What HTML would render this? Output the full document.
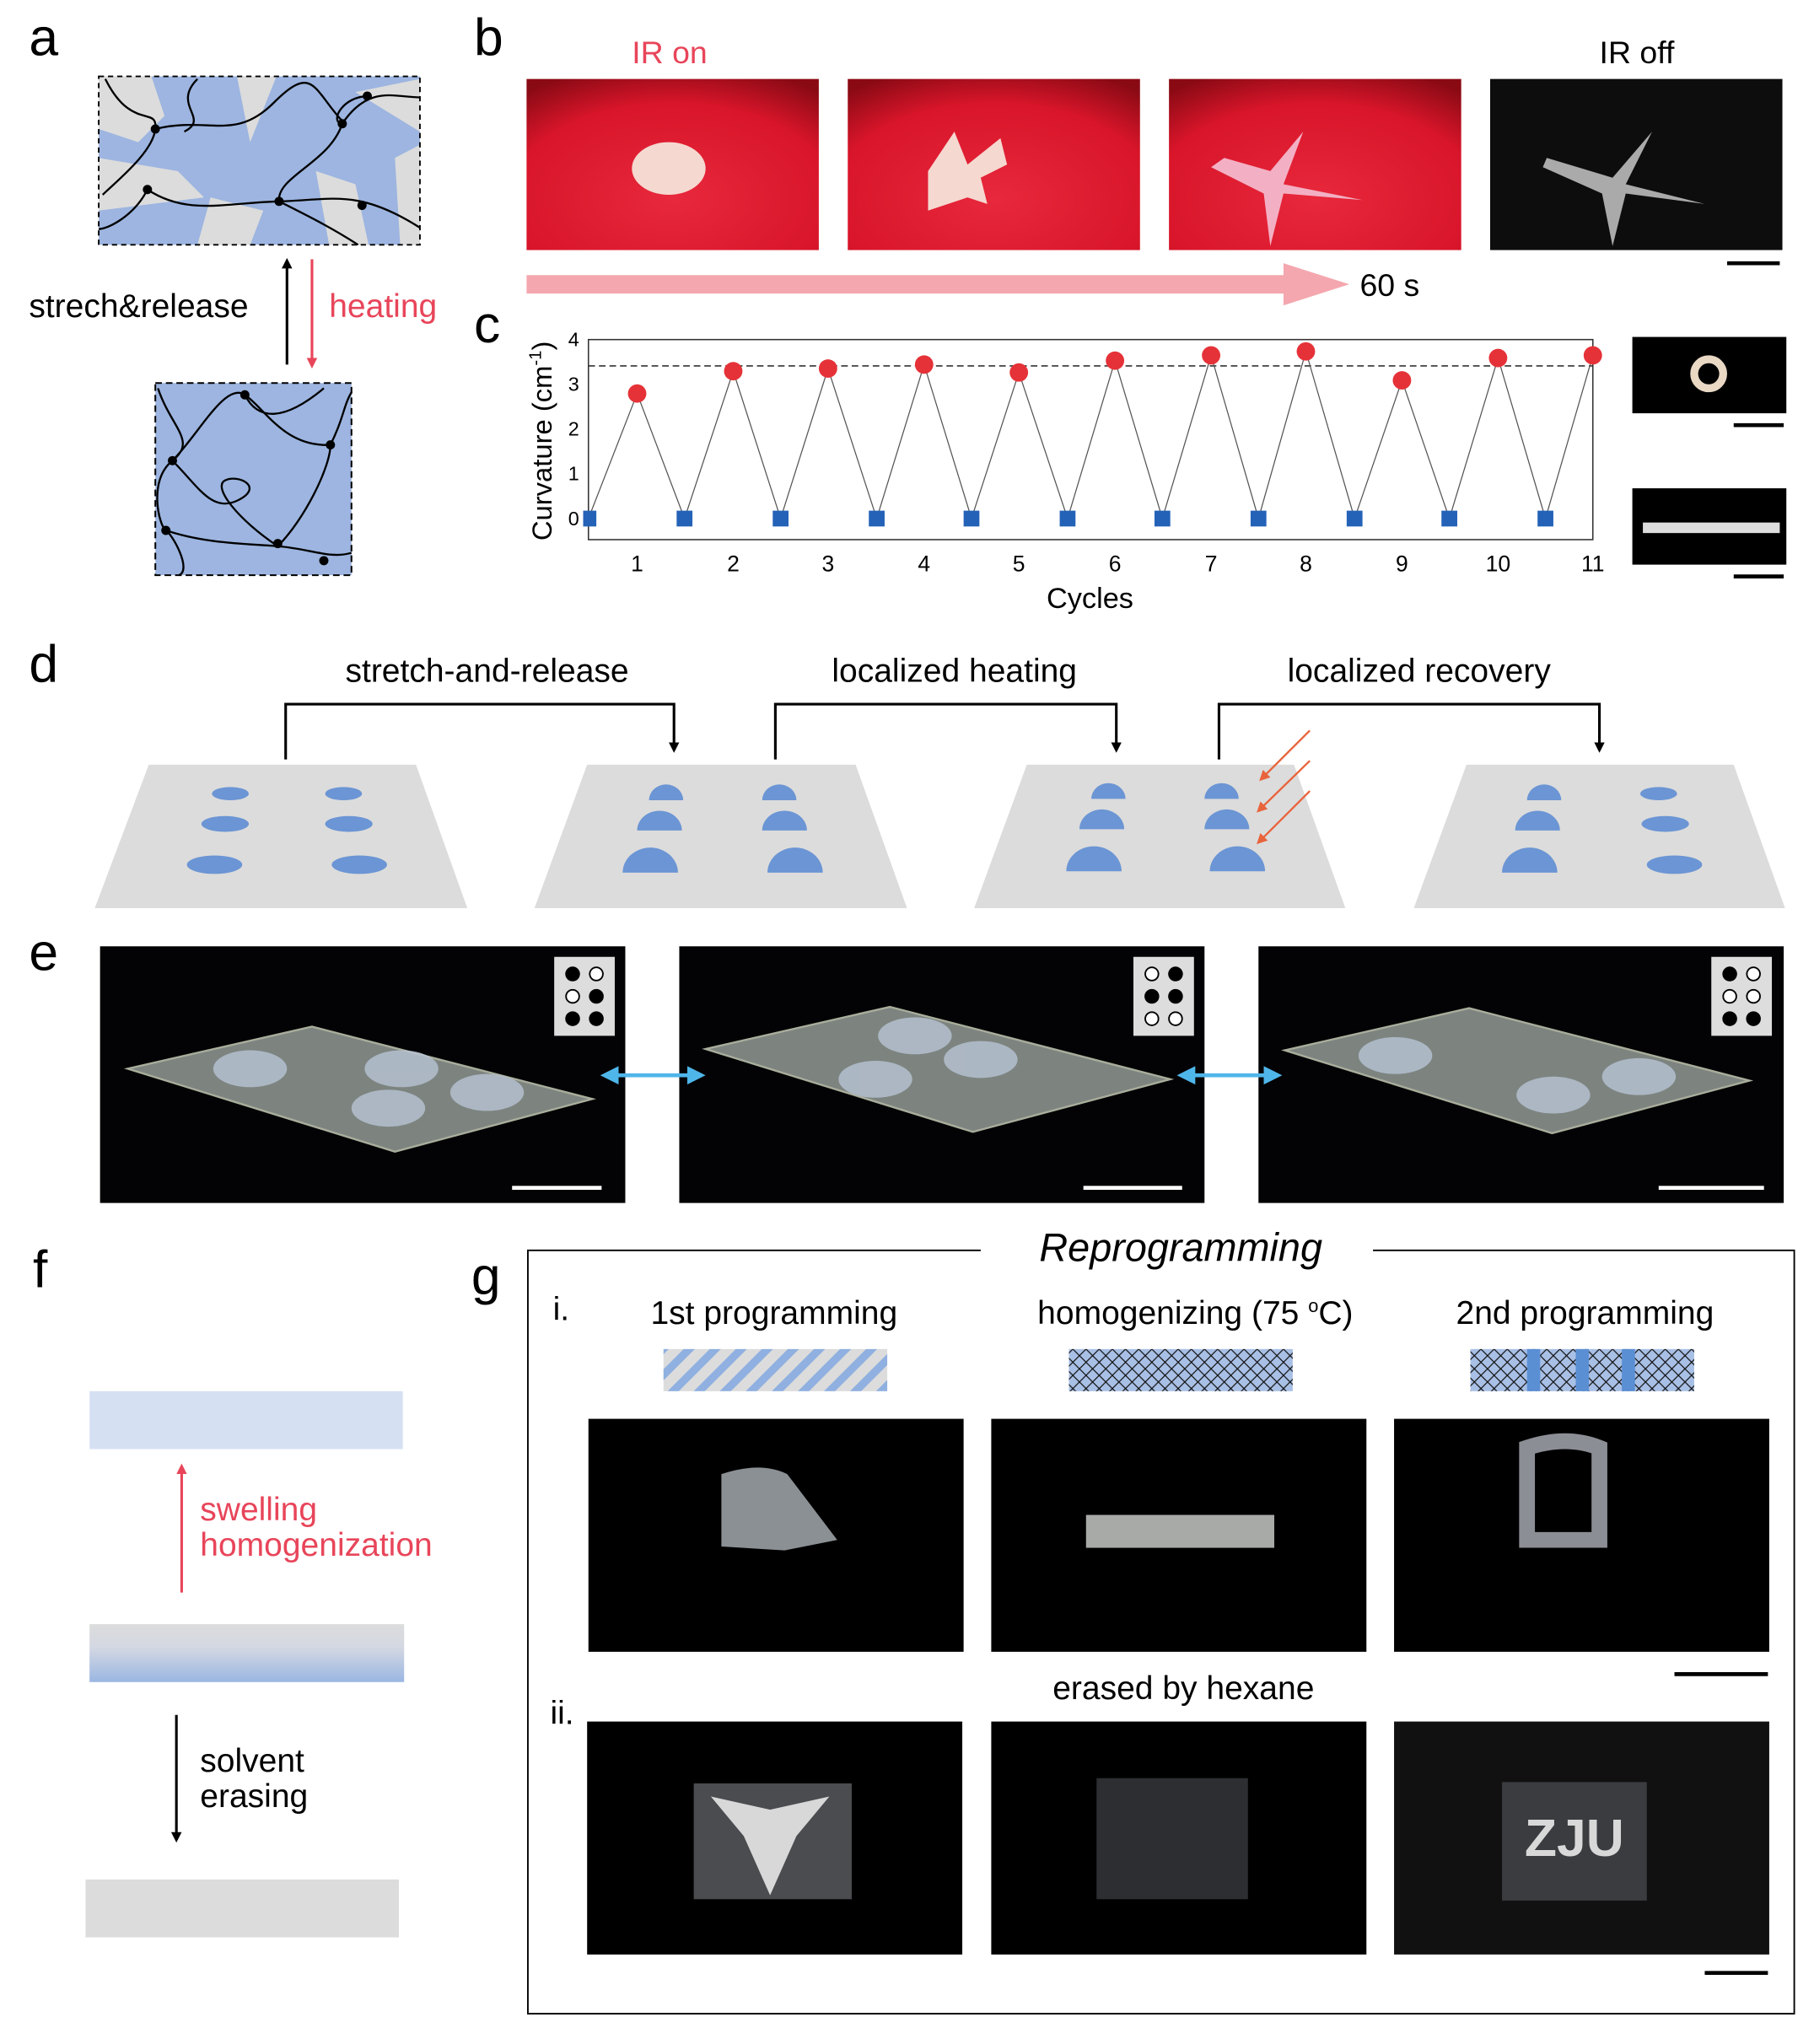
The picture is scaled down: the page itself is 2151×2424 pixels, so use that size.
<!DOCTYPE html>
<html><head><meta charset="utf-8"><style>html,body{margin:0;padding:0;background:#fff}svg{display:block}text{font-family:"Liberation Sans",sans-serif}</style></head><body>
<svg width="2151" height="2424" viewBox="0 0 1378 1553" preserveAspectRatio="none" xmlns="http://www.w3.org/2000/svg">
<defs>
<radialGradient id="red" cx="0.5" cy="0.7" r="0.8"><stop offset="0" stop-color="#e8283c"/><stop offset="0.7" stop-color="#d8152a"/><stop offset="1" stop-color="#8a0a14"/></radialGradient>
<linearGradient id="fgrad" x1="0" y1="0" x2="0" y2="1"><stop offset="0" stop-color="#dcdcdc"/><stop offset="0.4" stop-color="#d4d8e2"/><stop offset="1" stop-color="#9ab6e2"/></linearGradient>
<pattern id="hatch" width="14" height="14" patternUnits="userSpaceOnUse" patternTransform="rotate(45)"><rect width="14" height="14" fill="#dcdcdc"/><rect width="6" height="14" fill="#8fb0e0"/></pattern>
<pattern id="cross" width="10" height="10" patternUnits="userSpaceOnUse"><rect width="10" height="10" fill="#a9c0e6"/><path d="M0 0L10 10M10 0L0 10" stroke="#111" stroke-width="0.8"/></pattern>
<marker id="ak" markerWidth="8" markerHeight="8" refX="6" refY="4" orient="auto" markerUnits="userSpaceOnUse"><path d="M0 0L8 4L0 8z" fill="#000"/></marker>
<marker id="ar" markerWidth="8" markerHeight="8" refX="6" refY="4" orient="auto" markerUnits="userSpaceOnUse"><path d="M0 0L8 4L0 8z" fill="#e8455a"/></marker>
<marker id="ao" markerWidth="8" markerHeight="8" refX="6" refY="4" orient="auto" markerUnits="userSpaceOnUse"><path d="M0 0L8 4L0 8z" fill="#e8643c"/></marker>
<marker id="ab" markerWidth="14" markerHeight="14" refX="10" refY="7" orient="auto" markerUnits="userSpaceOnUse"><path d="M0 0L14 7L0 14z" fill="#4fb6ea"/></marker>
<marker id="ab2" markerWidth="14" markerHeight="14" refX="4" refY="7" orient="auto" markerUnits="userSpaceOnUse"><path d="M14 0L0 7L14 14z" fill="#4fb6ea"/></marker>
</defs>
<g font-size="40"><text x="22" y="42">a</text><text x="360" y="42">b</text><text x="360" y="260">c</text><text x="22" y="518">d</text><text x="22" y="737">e</text><text x="25" y="978">f</text><text x="358" y="983">g</text></g>
<!-- a -->
<rect x="75" y="58" width="244" height="128" fill="#9db5e0"/>
<g fill="#dcdcdc"><path d="M75 58h40l10 30-20 20-30-10z"/><path d="M180 58h30l-20 50z"/><path d="M270 70l49-10v40z"/><path d="M75 120l60 10 20 20-80 10z"/><path d="M240 130l30 10 10 46h-30z"/><path d="M160 150l40 10-10 26h-40z"/><path d="M300 120l19-10v76h-15z"/></g>
<g fill="none" stroke="#000" stroke-width="1.5"><path d="M80 60c20 40 40 20 38 38s-30 40 -40 50"/><path d="M118 98c40-10 60 10 90-20s30-10 52 14"/><path d="M260 94c20-30 40-20 59-20"/><path d="M260 94c-10 30 -50 40 -48 59"/><path d="M112 144c30 20 60 10 100 9s60-10 107 20"/><path d="M280 73c-20 0 -30 20 -20 21"/><path d="M112 144c-10 20 -30 30 -37 30"/><path d="M212 153c20 10 40 20 60 33"/><path d="M150 60c-20 20 10 30 -10 40"/></g>
<g fill="#000"><circle cx="118" cy="98" r="3.5"/><circle cx="260" cy="94" r="3.5"/><circle cx="279" cy="73" r="3.5"/><circle cx="112" cy="144" r="3.5"/><circle cx="212" cy="153" r="3.5"/><circle cx="275" cy="156" r="3.5"/></g>
<rect x="75" y="58" width="244" height="128" fill="none" stroke="#000" stroke-dasharray="4,3" stroke-width="1.2"/>
<rect x="118" y="291" width="149" height="146" fill="#9db5e0" stroke="#000" stroke-dasharray="5,3" stroke-width="1.3"/>
<g fill="none" stroke="#000" stroke-width="1.5"><path d="M120 295c10 30 30 40 11 55s-10 50 -5 53s20 30 10 34"/><path d="M131 350c20-20 40-60 55-50s30 40 65 38"/><path d="M186 300c10 20 30 20 60 -5"/><path d="M251 338c10-20 10-30 16-40"/><path d="M131 350c20 20 30 40 50 30s0-20 -10-15s10 30 40 50"/><path d="M211 415c20-20 40-60 40-77"/><path d="M126 403c30 10 60 10 85 12s40 10 56 5"/></g>
<g fill="#000"><circle cx="186" cy="300" r="3.5"/><circle cx="131" cy="350" r="3.5"/><circle cx="251" cy="338" r="3.5"/><circle cx="126" cy="403" r="3.5"/><circle cx="211" cy="413" r="3.5"/><circle cx="246" cy="426" r="3.5"/></g>
<line x1="218" y1="277" x2="218" y2="198" stroke="#000" stroke-width="2" marker-end="url(#ak)"/>
<line x1="237" y1="197" x2="237" y2="278" stroke="#e8455a" stroke-width="2" marker-end="url(#ar)"/>
<text x="22" y="241" font-size="25">strech&amp;release</text><text x="250" y="241" font-size="25" fill="#e8455a">heating</text>
<!-- b -->
<text x="480" y="48" font-size="24" fill="#e8455a">IR on</text><text x="1215" y="48" font-size="24">IR off</text>
<rect x="400" y="60" width="222" height="130" fill="url(#red)"/><rect x="644" y="60" width="222" height="130" fill="url(#red)"/><rect x="888" y="60" width="222" height="130" fill="url(#red)"/><rect x="1132" y="60" width="222" height="130" fill="#0d0d0d"/>
<g fill="#f5d8d0"><ellipse cx="508" cy="128" rx="28" ry="20"/><path d="M705 130l20-30 10 25 25-20 5 20-20 10 5 20-15-5-30 10z"/><path d="M930 120l35 10 25-30-15 40 60 12-60-5-10 40-5-40-40-20z" fill="#f3b0c4"/></g>
<path d="M1175 120l50 15 30-35-20 40 60 15-60-8-10 40-8-40-45-20z" fill="#aaa"/>
<line x1="1312" y1="200" x2="1352" y2="200" stroke="#000" stroke-width="3"/>
<path d="M400 209h575v-9l50 16-50 16v-9H400z" fill="#f4a7ae"/>
<text x="1033" y="225" font-size="24">60 s</text>
<!-- c -->
<rect x="447" y="258" width="763" height="152" fill="none" stroke="#333" stroke-width="1"/>
<line x1="447" y1="278" x2="1210" y2="278" stroke="#333" stroke-dasharray="5,3"/>
<g font-size="15" text-anchor="end"><text x="440" y="399">0</text><text x="440" y="365">1</text><text x="440" y="331">2</text><text x="440" y="297">3</text><text x="440" y="263">4</text></g>
<g font-size="17" text-anchor="middle"><text x="484" y="434">1</text><text x="557" y="434">2</text><text x="629" y="434">3</text><text x="702" y="434">4</text><text x="774" y="434">5</text><text x="847" y="434">6</text><text x="920" y="434">7</text><text x="992" y="434">8</text><text x="1065" y="434">9</text><text x="1138" y="434">10</text><text x="1210" y="434">11</text></g>
<text x="828" y="462" font-size="22" text-anchor="middle">Cycles</text>
<text transform="translate(419 335) rotate(-90)" font-size="21" text-anchor="middle">Curvature (cm<tspan font-size="13" dy="-8">-1</tspan><tspan dy="8">)</tspan></text>
<polyline fill="none" stroke="#555" stroke-width="0.8" points="447,394 484,299 520,394 557,282 593,394 629,280 666,394 702,277 738,394 774,283 811,394 847,274 883,394 920,270 956,394 992,267 1029,394 1065,289 1101,394 1138,272 1174,394 1210,270"/>
<g fill="#2462b8"><rect x="443" y="388" width="10" height="12"/><rect x="514" y="388" width="12" height="12"/><rect x="587" y="388" width="12" height="12"/><rect x="660" y="388" width="12" height="12"/><rect x="732" y="388" width="12" height="12"/><rect x="805" y="388" width="12" height="12"/><rect x="877" y="388" width="12" height="12"/><rect x="950" y="388" width="12" height="12"/><rect x="1023" y="388" width="12" height="12"/><rect x="1095" y="388" width="12" height="12"/><rect x="1168" y="388" width="12" height="12"/></g>
<g fill="#e53238"><circle cx="484" cy="299" r="7"/><circle cx="557" cy="282" r="7"/><circle cx="629" cy="280" r="7"/><circle cx="702" cy="277" r="7"/><circle cx="774" cy="283" r="7"/><circle cx="847" cy="274" r="7"/><circle cx="920" cy="270" r="7"/><circle cx="992" cy="267" r="7"/><circle cx="1065" cy="289" r="7"/><circle cx="1138" cy="272" r="7"/><circle cx="1210" cy="270" r="7"/></g>
<rect x="1240" y="256" width="117" height="58" fill="#000"/><circle cx="1298" cy="284" r="11" fill="none" stroke="#e8d8c4" stroke-width="6"/>
<rect x="1240" y="371" width="117" height="58" fill="#000"/><rect x="1248" y="397" width="104" height="8" fill="#ddd"/>
<line x1="1317" y1="323" x2="1355" y2="323" stroke="#000" stroke-width="3"/><line x1="1317" y1="438" x2="1355" y2="438" stroke="#000" stroke-width="3"/>
<!-- d -->
<g font-size="25" text-anchor="middle"><text x="370" y="518">stretch-and-release</text><text x="725" y="518">localized heating</text><text x="1078" y="518">localized recovery</text></g>
<g fill="none" stroke="#000" stroke-width="2"><path d="M217 577V535H512V570" marker-end="url(#ak)"/><path d="M589 577V535H848V570" marker-end="url(#ak)"/><path d="M926 577V535H1215V570" marker-end="url(#ak)"/></g>
<g fill="#dcdcdc"><path d="M113 581H316L355 690H72z"/><path d="M446 581H650L689 690H406z"/><path d="M780 581H983L1022 690H740z"/><path d="M1114 581H1317L1356 690H1074z"/></g>
<g fill="#6b95d4">
<ellipse cx="175" cy="603" rx="14" ry="5"/><ellipse cx="171" cy="626" rx="18" ry="6"/><ellipse cx="163" cy="657" rx="21" ry="7"/><ellipse cx="261" cy="603" rx="14" ry="5"/><ellipse cx="265" cy="626" rx="18" ry="6"/><ellipse cx="273" cy="657" rx="21" ry="7"/>
<path d="M493 608a13 12 0 0 1 26 0z"/><path d="M484 631a17 15 0 0 1 34 0z"/><path d="M473 663a21 19 0 0 1 42 0z"/><path d="M579 608a13 12 0 0 1 26 0z"/><path d="M579 631a17 15 0 0 1 34 0z"/><path d="M583 663a21 19 0 0 1 42 0z"/>
<path d="M829 607a13 12 0 0 1 26 0z"/><path d="M820 630a17 15 0 0 1 34 0z"/><path d="M810 662a21 19 0 0 1 42 0z"/><path d="M915 607a13 12 0 0 1 26 0z"/><path d="M915 630a17 15 0 0 1 34 0z"/><path d="M919 662a21 19 0 0 1 42 0z"/>
<path d="M1160 608a13 12 0 0 1 26 0z"/><path d="M1151 631a17 15 0 0 1 34 0z"/><path d="M1141 663a21 19 0 0 1 42 0z"/><ellipse cx="1260" cy="603" rx="14" ry="5"/><ellipse cx="1265" cy="626" rx="18" ry="6"/><ellipse cx="1272" cy="657" rx="21" ry="7"/></g>
<g stroke="#e8643c" stroke-width="1.5"><line x1="995" y1="555" x2="958" y2="592" marker-end="url(#ao)"/><line x1="995" y1="578" x2="956" y2="616" marker-end="url(#ao)"/><line x1="995" y1="601" x2="956" y2="640" marker-end="url(#ao)"/></g>
<!-- e -->
<g><rect x="76" y="719" width="399" height="195" fill="#030305"/><rect x="516" y="719" width="399" height="195" fill="#030305"/><rect x="956" y="719" width="399" height="195" fill="#030305"/></g>
<g fill="#7d8480" stroke="#a9ae9c" stroke-width="1.5"><path d="M97 812l140-32 213 55-150 40z"/><path d="M536 797l140-32 213 55-150 40z"/><path d="M976 798l140-32 213 55-150 40z"/></g>
<g fill="#b8c4d4" opacity="0.8"><ellipse cx="190" cy="812" rx="28" ry="14"/><ellipse cx="305" cy="812" rx="28" ry="14"/><ellipse cx="370" cy="830" rx="28" ry="14"/><ellipse cx="295" cy="842" rx="28" ry="14"/><ellipse cx="695" cy="787" rx="28" ry="14"/><ellipse cx="745" cy="805" rx="28" ry="14"/><ellipse cx="665" cy="820" rx="28" ry="14"/><ellipse cx="1060" cy="802" rx="28" ry="14"/><ellipse cx="1180" cy="832" rx="28" ry="14"/><ellipse cx="1245" cy="818" rx="28" ry="14"/></g>
<g fill="#fff"><rect x="389" y="901" width="68" height="3"/><rect x="823" y="901" width="75" height="3"/><rect x="1260" y="901" width="80" height="3"/></g>
<g><rect x="421" y="727" width="46" height="60" fill="#ddd"/><rect x="861" y="727" width="46" height="60" fill="#ddd"/><rect x="1300" y="727" width="46" height="60" fill="#ddd"/></g>
<g stroke="#000" stroke-width="1.2">
<circle cx="435" cy="740" r="5"/><circle cx="453" cy="740" r="5" fill="#fff"/><circle cx="435" cy="757" r="5" fill="#fff"/><circle cx="453" cy="757" r="5"/><circle cx="435" cy="774" r="5"/><circle cx="453" cy="774" r="5"/>
<circle cx="875" cy="740" r="5" fill="#fff"/><circle cx="893" cy="740" r="5"/><circle cx="875" cy="757" r="5"/><circle cx="893" cy="757" r="5"/><circle cx="875" cy="774" r="5" fill="#fff"/><circle cx="893" cy="774" r="5" fill="#fff"/>
<circle cx="1314" cy="740" r="5"/><circle cx="1332" cy="740" r="5" fill="#fff"/><circle cx="1314" cy="757" r="5" fill="#fff"/><circle cx="1332" cy="757" r="5" fill="#fff"/><circle cx="1314" cy="774" r="5"/><circle cx="1332" cy="774" r="5"/></g>
<g stroke="#4fb6ea" stroke-width="3"><line x1="460" y1="817" x2="532" y2="817" marker-end="url(#ab)" marker-start="url(#ab2)"/><line x1="898" y1="817" x2="970" y2="817" marker-end="url(#ab)" marker-start="url(#ab2)"/></g>
<!-- f -->
<rect x="68" y="1057" width="238" height="44" fill="#d6e0f3"/><rect x="68" y="1234" width="239" height="44" fill="url(#fgrad)"/><rect x="65" y="1428" width="238" height="44" fill="#dcdcdc"/>
<line x1="138" y1="1210" x2="138" y2="1114" stroke="#e8455a" stroke-width="2" marker-end="url(#ar)"/>
<line x1="134" y1="1303" x2="134" y2="1398" stroke="#000" stroke-width="2" marker-end="url(#ak)"/>
<g font-size="25" fill="#e8455a"><text x="152" y="1155">swelling</text><text x="152" y="1182">homogenization</text></g>
<g font-size="25"><text x="152" y="1346">solvent</text><text x="152" y="1373">erasing</text></g>
<!-- g -->
<path d="M745 950H401V1530H1363V950H1043" fill="none" stroke="#000" stroke-width="1.2"/>
<text x="897" y="958" font-size="30" font-style="italic" text-anchor="middle">Reprogramming</text>
<text x="420" y="1003" font-size="25">i.</text><text x="418" y="1310" font-size="25">ii.</text>
<g font-size="25" text-anchor="middle"><text x="588" y="1006">1st programming</text><text x="908" y="1006">homogenizing (75 <tspan font-size="14" dy="-9">o</tspan><tspan dy="9">C)</tspan></text><text x="1204" y="1006">2nd programming</text><text x="899" y="1291">erased by hexane</text></g>
<rect x="504" y="1025" width="170" height="32" fill="url(#hatch)"/><rect x="812" y="1025" width="170" height="32" fill="url(#cross)"/><rect x="1117" y="1025" width="170" height="32" fill="url(#cross)"/>
<g fill="#5b8fd4"><rect x="1160" y="1025" width="10" height="32"/><rect x="1197" y="1025" width="10" height="32"/><rect x="1232" y="1025" width="10" height="32"/></g>
<g fill="#000"><rect x="447" y="1078" width="285" height="177"/><rect x="753" y="1078" width="285" height="177"/><rect x="1059" y="1078" width="285" height="177"/><rect x="446" y="1308" width="285" height="177"/><rect x="753" y="1308" width="285" height="177"/><rect x="1059" y="1308" width="285" height="177" fill="#111"/></g>
<path d="M548 1120q30-10 50 0l38 50-40 8-48-3z" fill="#8b9094"/><rect x="825" y="1151" width="143" height="25" fill="#a8aaa8"/>
<path d="M1160 1100q30-10 55 0v70h-55z" fill="none" stroke="#8c8e96" stroke-width="12"/>
<rect x="527" y="1355" width="120" height="88" fill="#4a4c50"/><path d="M540 1365l45 10 45-10-25 30-20 45-20-45z" fill="#d8d8d8"/>
<rect x="833" y="1351" width="115" height="92" fill="#2c2e32"/><rect x="1141" y="1354" width="110" height="90" fill="#3a3c40"/>
<text x="1196" y="1410" font-size="40" font-weight="bold" fill="#d8d8d8" text-anchor="middle">ZJU</text>
<line x1="1272" y1="1272" x2="1343" y2="1272" stroke="#000" stroke-width="3"/><line x1="1295" y1="1499" x2="1343" y2="1499" stroke="#000" stroke-width="3"/>
</svg>
</body></html>
